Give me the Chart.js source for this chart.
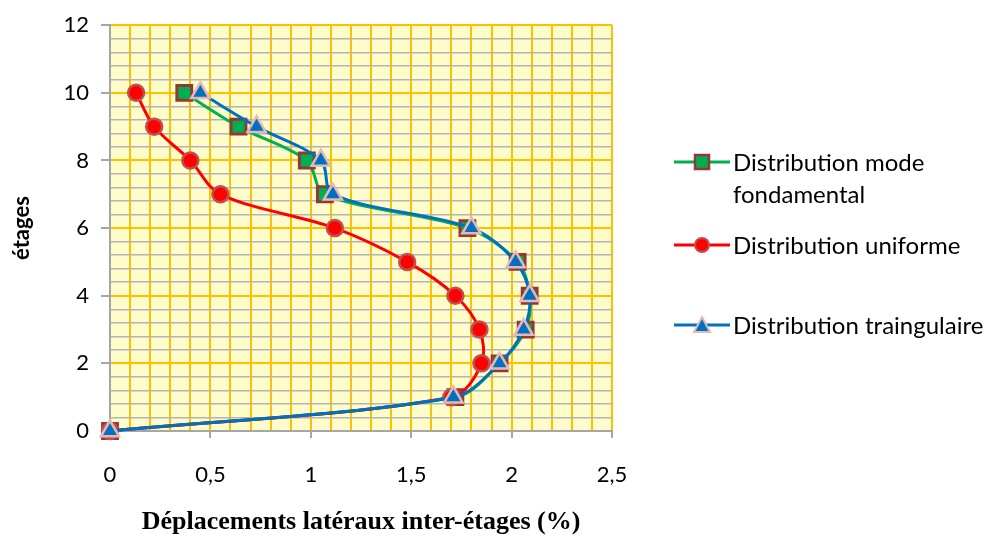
<!DOCTYPE html>
<html>
<head>
<meta charset="utf-8">
<script src="https://cdn.jsdelivr.net/npm/chart.js@4.4.1/dist/chart.umd.min.js"></script>
<style>
  body { margin: 0; background: #fff; }
  #wrap { position: relative; width: 1003px; height: 538px; }
  #chart { position: absolute; left: 0; top: 0; }
  .leg { position: absolute; font-family: Lato, sans-serif; font-size: 24px; line-height: 32px; color: #000; white-space: nowrap; }
  .mk { position: absolute; }
</style>
</head>
<body>
<div id="wrap">
  <canvas id="chart" width="1003" height="538"></canvas>

  <svg class="mk" style="left:674px; top:150px" width="56" height="24">
    <line x1="0" y1="12" x2="56" y2="12" stroke="#00B050" stroke-width="3"/>
    <rect x="21" y="5" width="14" height="14" fill="#00B050" stroke="#953735" stroke-width="2.5"/>
  </svg>
  <div class="leg" style="left:733px; top:146px">Distribution mode<br>fondamental</div>

  <svg class="mk" style="left:674px; top:233px" width="56" height="24">
    <line x1="0" y1="12" x2="56" y2="12" stroke="#FF0000" stroke-width="3"/>
    <circle cx="28" cy="12" r="7" fill="#FF0000" stroke="#C0504D" stroke-width="2"/>
  </svg>
  <div class="leg" style="left:733px; top:229px">Distribution uniforme</div>

  <svg class="mk" style="left:674px; top:313px" width="56" height="24">
    <line x1="0" y1="12" x2="56" y2="12" stroke="#0070C0" stroke-width="3"/>
    <polygon points="28,4 36,19 20,19" fill="#0070C0" stroke="#E6B9B8" stroke-width="2"/>
  </svg>
  <div class="leg" style="left:733px; top:309px">Distribution traingulaire</div>
</div>

<script>
// floors and inter-storey drift (%)
var etages = [0, 1, 2, 3, 4, 5, 6, 7, 8, 9, 10];
var modeFondamental = [0, 1.72, 1.94, 2.07, 2.09, 2.03, 1.78, 1.07, 0.98, 0.64, 0.37];
var uniforme = [0, 1.70, 1.85, 1.84, 1.72, 1.48, 1.12, 0.55, 0.40, 0.22, 0.13];
var triangulaire = [0, 1.71, 1.94, 2.06, 2.09, 2.02, 1.80, 1.11, 1.05, 0.73, 0.45];

var xLabels = ['0', '0,5', '1', '1,5', '2', '2,5'];

function pts(xs) {
  return xs.map(function (v, i) { return { x: v, y: etages[i] } })
}

// yellow plot area
var plotBg = {
  id: 'plotBg',
  beforeDraw: function (chart) {
    var a = chart.chartArea, ctx = chart.ctx
    ctx.save()
    ctx.fillStyle = '#FFFCCB'
    ctx.fillRect(a.left, a.top, a.right - a.left, a.bottom - a.top)
    ctx.restore()
  }
}

function isMajorX(v) { return Math.round(v * 10) % 5 === 0 }
function isMajorY(v) { return Math.round(v * 10) % 20 === 0 }

var ctx = document.getElementById('chart').getContext('2d')
new Chart(ctx, {
  type: 'scatter',
  data: {
    datasets: [{
      label: 'Distribution mode fondamental',
      data: pts(modeFondamental),
      showLine: true,
      clip: false,
      borderColor: '#00B050',
      borderWidth: 3,
      tension: 0.33,
      pointStyle: 'rect',
      pointRadius: 10.5,
      pointBackgroundColor: '#00B050',
      pointBorderColor: '#953735',
      pointBorderWidth: 3,
      order: 3
    }, {
      label: 'Distribution uniforme',
      data: pts(uniforme),
      showLine: true,
      clip: false,
      borderColor: '#FF0000',
      borderWidth: 3,
      tension: 0.33,
      pointStyle: 'circle',
      pointRadius: 8,
      pointBackgroundColor: '#FF0000',
      pointBorderColor: '#C0504D',
      pointBorderWidth: 2.5,
      order: 2
    }, {
      label: 'Distribution traingulaire',
      data: pts(triangulaire),
      showLine: true,
      clip: false,
      borderColor: '#0070C0',
      borderWidth: 3,
      tension: 0.33,
      pointStyle: 'triangle',
      pointRadius: 10.5,
      pointBackgroundColor: '#0070C0',
      pointBorderColor: '#E6B9B8',
      pointBorderWidth: 2.5,
      order: 1
    }]
  },
  options: {
    responsive: false,
    animation: false,
    layout: { padding: { left: 0, right: 391, top: 23, bottom: 0 } },
    plugins: { legend: { display: false }, tooltip: { enabled: false } },
    scales: {
      x: {
        type: 'linear',
        min: 0, max: 2.5,
        afterFit: function (s) { s.height = 107 },
        border: { color: '#A6A6A6', width: 2 },
        grid: {
          color: '#FFC000',
          lineWidth: 2,
          tickLength: 7,
          tickColor: function (c) { return isMajorX(c.tick.value) ? '#A6A6A6' : 'rgba(0,0,0,0)' }
        },
        ticks: {
          stepSize: 0.1,
          autoSkip: false,
          maxRotation: 0,
          padding: 24,
          color: '#000',
          font: { family: 'Lato', size: 22 },
          callback: function (v) { return isMajorX(v) ? xLabels[Math.round(v * 2)] : '' }
        },
        title: {
          display: true,
          text: 'Déplacements latéraux inter-étages (%)',
          color: '#000',
          font: { family: 'Liberation Serif', size: 26, weight: 'bold' },
          padding: { top: 0, bottom: 0 }
        }
      },
      y: {
        type: 'linear',
        min: 0, max: 12,
        afterFit: function (s) { s.width = 110 },
        border: { color: '#A6A6A6', width: 2 },
        grid: {
          color: function (c) { return isMajorY(c.tick.value) ? '#FFC000' : '#B4B4B4' },
          lineWidth: function (c) { return isMajorY(c.tick.value) ? 2 : 1.5 },
          tickLength: 9,
          tickColor: function (c) { return isMajorY(c.tick.value) ? '#A6A6A6' : 'rgba(0,0,0,0)' }
        },
        ticks: {
          stepSize: 0.4,
          autoSkip: false,
          padding: 12,
          color: '#000',
          font: { family: 'Lato', size: 22 },
          callback: function (v) { return isMajorY(v) ? String(Math.round(v)) : '' }
        },
        title: {
          display: true,
          text: 'étages',
          color: '#000',
          font: { family: 'Lato', size: 22, weight: 'bold' },
          padding: { top: 9, bottom: 0 }
        }
      }
    }
  },
  plugins: [plotBg]
})
</script>
</body>
</html>
